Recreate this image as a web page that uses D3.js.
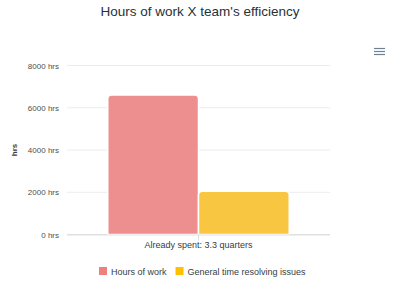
<!DOCTYPE html>
<html>
<head>
<meta charset="utf-8">
<script src="https://cdn.jsdelivr.net/npm/d3@7"></script>
<style>
  body { margin: 0; background: #fff; }
  svg { font-family: "Liberation Sans", Arial, Helvetica, sans-serif; display: block; }
</style>
</head>
<body>
<svg id="chart" width="400" height="302"></svg>
<script>
// data
const categories = ["Already spent: 3.3 quarters"];
const seriesNames = ["Hours of work", "General time resolving issues"];
const seriesValues = [6600, 2050];
const barColors = ["#EE8F8F", "#F8C640"];
const legendColors = ["#F08080", "#FFC000"];
const yTicks = [0, 2000, 4000, 6000, 8000];

const svg = d3.select("#chart");
const margin = { left: 67, right: 70, top: 65.5, bottom: 67.5 };
const W = 400, H = 302;

const x = d3.scaleBand().domain(categories).range([margin.left, W - margin.right]);
const y = d3.scaleLinear().domain([0, 8000]).range([H - margin.bottom, margin.top]);

// inner band for series (bars take ~69% of the category)
const inner = d3.scaleBand()
  .domain(seriesNames)
  .range([0, x.bandwidth() * 0.69]);
const innerOffset = (x.bandwidth() - inner.range()[1]) / 2;

// title
svg.append("text")
  .attr("x", W / 2).attr("y", 16)
  .attr("text-anchor", "middle")
  .style("font-size", "13.5px")
  .style("fill", "#263238")
  .text("Hours of work X team's efficiency");

// gridlines + y labels
const yAxis = svg.append("g");
yTicks.forEach(t => {
  yAxis.append("line")
    .attr("x1", margin.left).attr("x2", W - margin.right)
    .attr("y1", y(t)).attr("y2", y(t))
    .attr("stroke", t === 0 ? "#e0e0e0" : "#ececec")
    .attr("stroke-width", 1);
  yAxis.append("text")
    .attr("x", 59).attr("y", y(t) + 3)
    .attr("text-anchor", "end")
    .style("font-size", "8px")
    .style("fill", "#4a5052")
    .text(t + " hrs");
});

// y axis title
svg.append("text")
  .attr("transform", "translate(17," + ((y(0) + y(8000)) / 2) + ") rotate(-90)")
  .attr("text-anchor", "middle")
  .style("font-size", "8px")
  .style("font-weight", "bold")
  .style("fill", "#373d3f")
  .text("hrs");

// rounded-top bar path
function barPath(x0, w, y0, y1, r) {
  r = Math.min(r, w / 2, y0 - y1);
  return `M${x0},${y0} V${y1 + r} Q${x0},${y1} ${x0 + r},${y1} H${x0 + w - r} Q${x0 + w},${y1} ${x0 + w},${y1 + r} V${y0} Z`;
}

// bars
const bars = seriesNames.map((s, i) => ({ name: s, value: seriesValues[i], color: barColors[i], cat: categories[0] }));
svg.append("g").selectAll("path")
  .data(bars)
  .enter()
  .append("path")
  .attr("d", d => barPath(x(d.cat) + innerOffset + inner(d.name), inner.bandwidth(), y(0), y(d.value), 4))
  .attr("fill", d => d.color)
  .attr("stroke", "#fff")
  .attr("stroke-width", 1.5);

// x axis line & tick
svg.append("line")
  .attr("x1", margin.left).attr("x2", W - margin.right)
  .attr("y1", y(0) + 0.5).attr("y2", y(0) + 0.5)
  .attr("stroke", "#e0e0e0");
categories.forEach(c => {
  const cx = x(c) + x.bandwidth() / 2;
  svg.append("line")
    .attr("x1", cx).attr("x2", cx)
    .attr("y1", y(0)).attr("y2", y(0) + 6)
    .attr("stroke", "#e0e0e0");
  svg.append("text")
    .attr("x", cx).attr("y", 248)
    .attr("text-anchor", "middle")
    .style("font-size", "9px")
    .style("fill", "#373d3f")
    .text(c);
});

// legend
const legend = svg.append("g");
let lx = 99;
seriesNames.forEach((s, i) => {
  legend.append("rect")
    .attr("x", lx).attr("y", 267)
    .attr("width", 8).attr("height", 8)
    .attr("fill", legendColors[i]);
  const t = legend.append("text")
    .attr("x", lx + 12).attr("y", 274.5)
    .style("font-size", "9px")
    .style("fill", "#373d3f")
    .text(s);
  lx += 12 + t.node().getComputedTextLength() + 9;
});

// menu icon
[0, 3, 6].forEach(dy => {
  svg.append("line")
    .attr("x1", 374).attr("x2", 385)
    .attr("y1", 48.5 + dy).attr("y2", 48.5 + dy)
    .attr("stroke", "#6E8192").attr("stroke-width", 1.2);
});
</script>
</body>
</html>
